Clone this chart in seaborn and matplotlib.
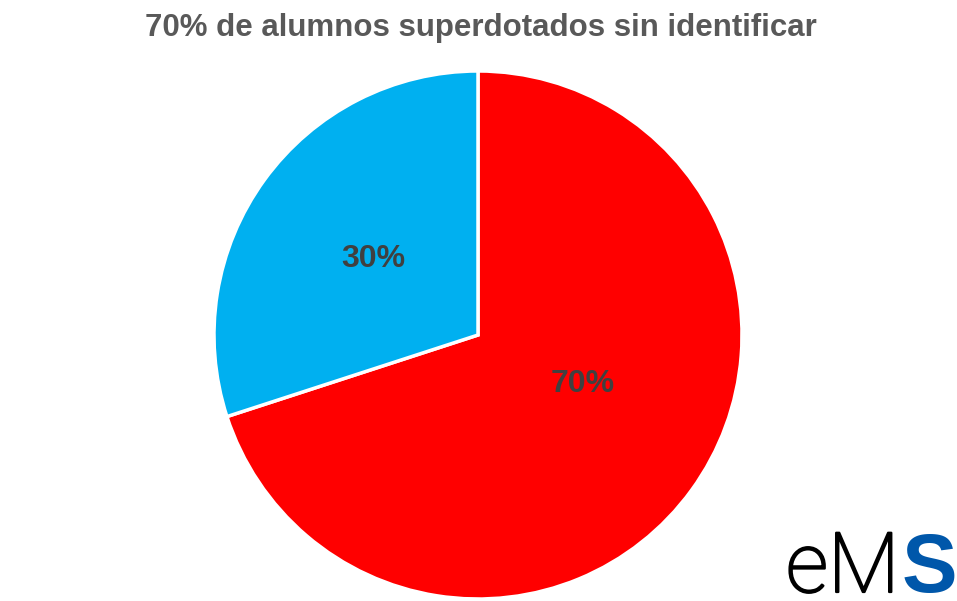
import numpy as np
import matplotlib
matplotlib.use("Agg")
import matplotlib.pyplot as plt
import matplotlib.patheffects as pe
import seaborn as sns

sns.set_theme(style="white")
plt.rcParams['font.family'] = ['Liberation Sans', 'DejaVu Sans']

# data
categories = ["Sin identificar", "Identificados"]
shares = [70, 30]
colors = ["#FF0000", "#00B0F0"]
title = "70% de alumnos superdotados sin identificar"

W, H = 957, 601
fig = plt.figure(figsize=(W / 100, H / 100), dpi=100)
cx, cy, r = 478, 335, 264
ax = fig.add_axes([(cx - r) / W, (H - cy - r) / H, 2 * r / W, 2 * r / H])

wedges, texts, autotexts = ax.pie(
    shares, colors=colors, startangle=90, counterclock=False,
    autopct='%1.0f%%', pctdistance=0.49,
    wedgeprops=dict(edgecolor='white', linewidth=2.5),
    textprops=dict(fontsize=23, fontweight='bold', color='#404040'),
)
# Excel-like label placement for the big slice
autotexts[0].set_position((0.395, -0.185))
ax.set_xlim(-1, 1)
ax.set_ylim(-1, 1)
ax.set_aspect('equal')
ax.axis('off')

fig.text(481 / W, 1 - 28 / H, title, ha='center', va='center',
         fontsize=22.5, fontweight='bold', color='#595959')

# logo
fig.text(786 / W, 1 - 592 / H, "eM", ha='left', va='baseline',
         fontsize=60, fontweight='light', color='black',
         family=['Roboto', 'Liberation Sans'],
         path_effects=[pe.withStroke(linewidth=1.6, foreground='black')])
fig.text(957 / W, 1 - 592 / H, "S", ha='right', va='baseline',
         fontsize=60, fontweight='bold', color='#0057AA')

fig.savefig("out.png", dpi=100)
